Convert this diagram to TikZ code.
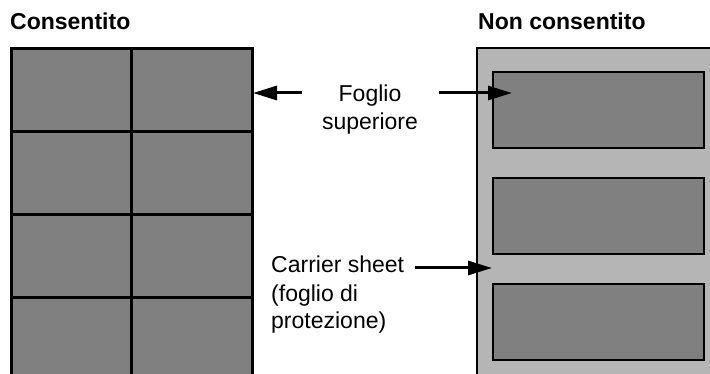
\documentclass[tikz,border=0pt]{standalone}
\usepackage{fontspec}
\setmainfont{Liberation Sans}
\usetikzlibrary{arrows.meta}
\definecolor{labeldark}{gray}{0.5}
\definecolor{carrierlight}{gray}{0.71}
\begin{document}
\begin{tikzpicture}[x=1pt,y=-1pt,every node/.style={font=\fontsize{23}{28}\selectfont,inner sep=0pt},
  title/.style={font=\fontsize{23}{28}\selectfont\bfseries,anchor=base west},
  arr/.style={line width=3pt,-{Triangle[length=24pt,width=14pt]}}]
  \useasboundingbox (0,0) rectangle (710,374);
  \clip (0,0) rectangle (710,374);
  % consentito: labels side by side
  \foreach \r in {0,...,4}{\foreach \c in {0,1}{
    \draw[fill=labeldark,line width=3pt] (11+\c*120.5,49+\r*83) rectangle +(120.5,83);}}
  % non consentito: labels on carrier sheet
  \draw[fill=carrierlight,line width=2pt] (477,48.5) rectangle (730,400);
  \foreach \y in {72,178,284}{\draw[fill=labeldark,line width=2pt] (492.5,\y) rectangle (704.3,\y+76);}
  \node[title] (ok) at (10,30) {Consentito};
  \node[title] (notok) at (478,30) {Non consentito};
  \node[align=center,anchor=base] (top) at (370,130) {Foglio\\superiore};
  \node[align=left,anchor=base west] (carrier) at (271,329) {Carrier sheet\\(foglio di\\protezione)};
  \coordinate (fromL) at (302,93); \coordinate (tipL) at (253,93);
  \coordinate (fromR) at (439,93); \coordinate (tipR) at (512,93);
  \coordinate (fromC) at (415,268); \coordinate (tipC) at (492,268);
  \draw[arr] (fromL) -- (tipL);
  \draw[arr] (fromR) -- (tipR);
  \draw[arr] (fromC) -- (tipC);
\end{tikzpicture}
\end{document}
